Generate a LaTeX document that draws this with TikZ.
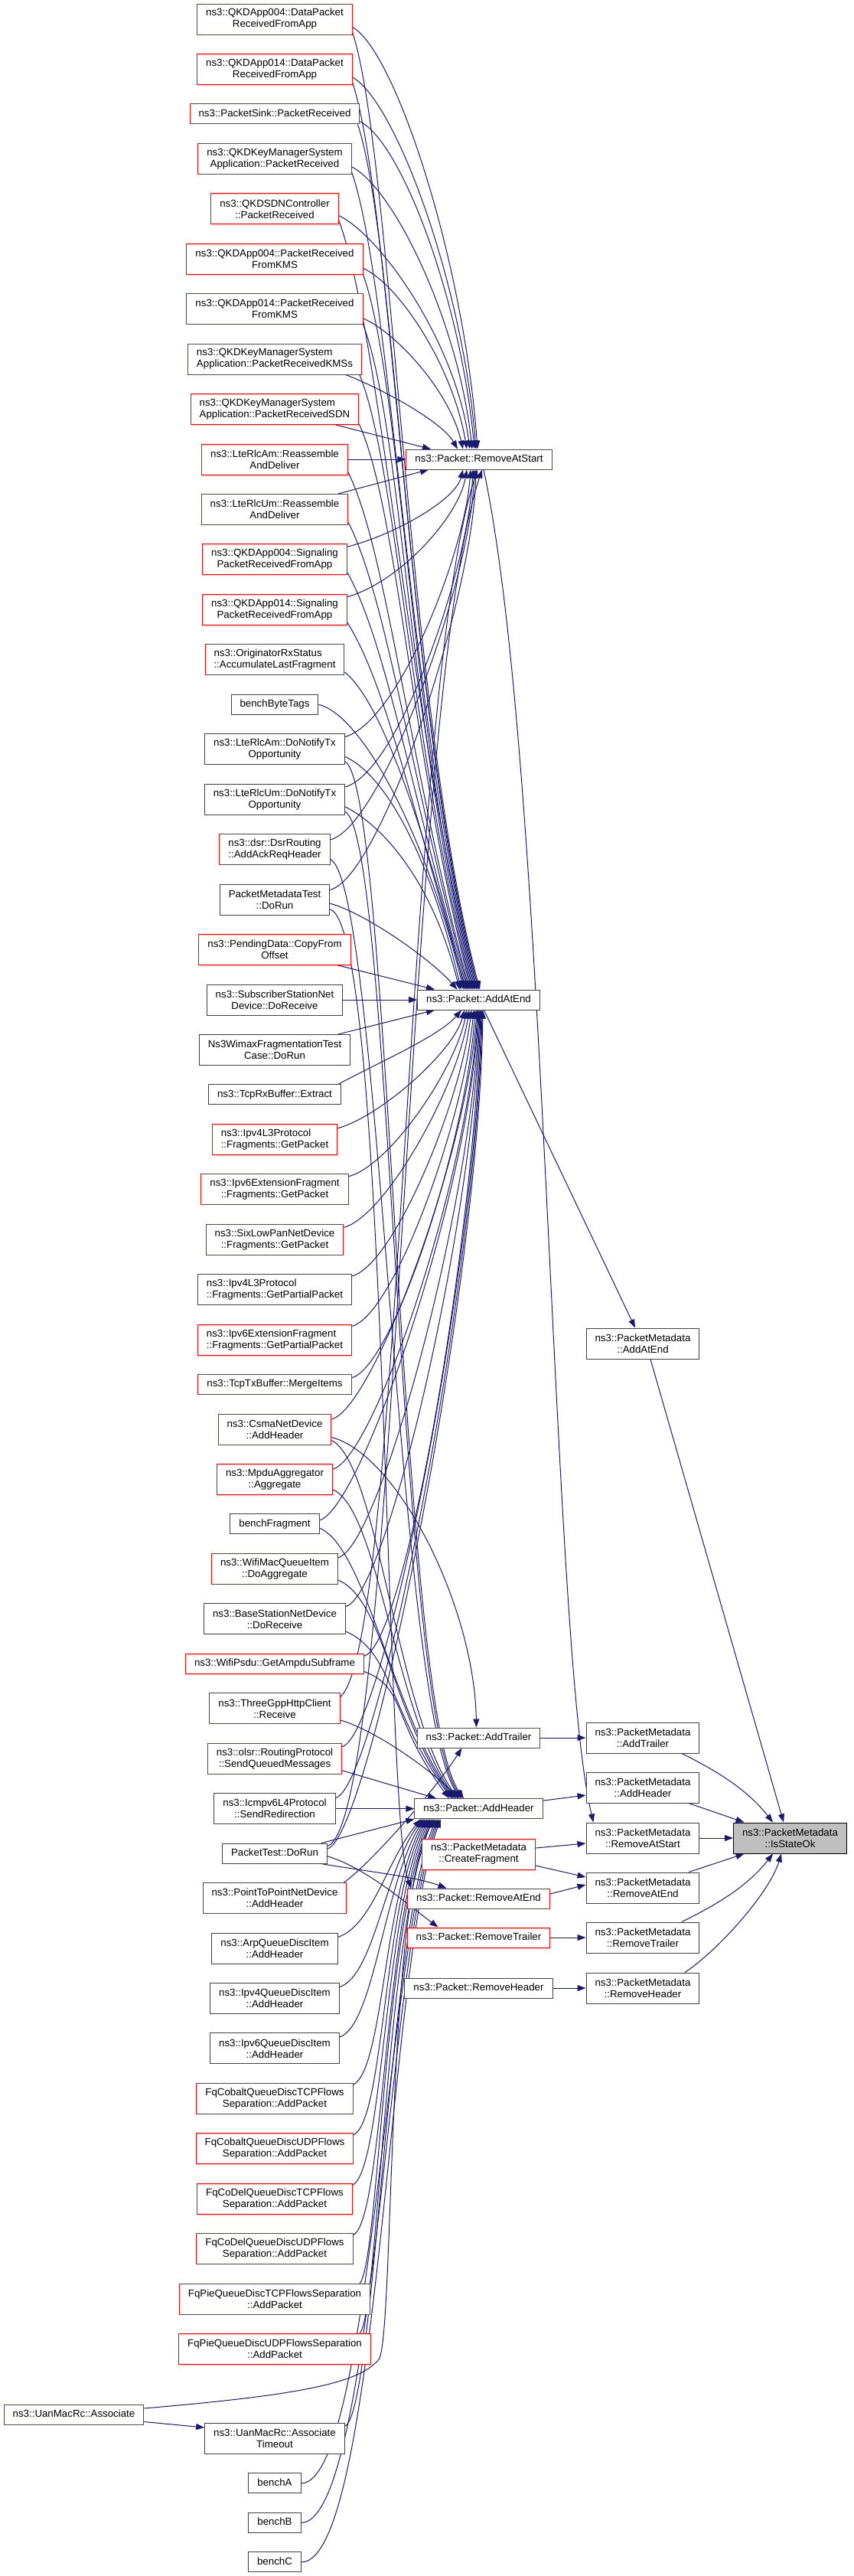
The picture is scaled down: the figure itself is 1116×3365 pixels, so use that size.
\documentclass[tikz,border=0pt]{standalone}
\usepackage{fontspec}
\setmainfont{Liberation Sans}
\usetikzlibrary{arrows.meta}
\definecolor{edgec}{HTML}{191970}
\definecolor{rednode}{HTML}{FF0000}
\definecolor{greynode}{HTML}{404040}
\definecolor{fillgrey}{HTML}{BFBFBF}
\newcommand\fsz{\fontsize{13.3pt}{15pt}\selectfont}
\pgfdeclarelayer{back}\pgfdeclarelayer{edges}\pgfsetlayers{back,edges,main}
\begin{document}
\begin{tikzpicture}[x=1pt,y=-1pt,
  base/.style={draw, fill=white, line width=1pt, inner xsep=11.5pt, inner ysep=2pt, font=\fsz},
  sgl/.style={base, minimum height=26pt, text height=9.6pt, text depth=2.9pt},
  dbl/.style={base, minimum height=40pt, align=center},
  redb/.style={draw=rednode},
  blkb/.style={draw=greynode},
  edg/.style={draw=edgec, line width=1pt, -{Triangle[length=11pt,width=8pt]}}
]
\begin{pgfonlayer}{back}
\fill[white] (0,0) rectangle (1116,3365);
\end{pgfonlayer}
\useasboundingbox (0,0) rectangle (1116,3365);

% ---------- left column
\node[dbl,redb] (n1) at (359,25) {ns3::QKDApp004::DataPacket\\ReceivedFromApp};
\node[dbl,redb] (n2) at (359,90.45) {ns3::QKDApp014::DataPacket\\ReceivedFromApp};
\node[sgl,redb] (n3) at (359,148.9) {ns3::PacketSink::PacketReceived};
\node[dbl,redb] (n4) at (359,207.35) {ns3::QKDKeyManagerSystem\\Application::PacketReceived};
\node[dbl,redb] (n5) at (359,272.8) {ns3::QKDSDNController\\::PacketReceived};
\node[dbl,redb] (n6) at (359,338.25) {ns3::QKDApp004::PacketReceived\\FromKMS};
\node[dbl,redb] (n7) at (359,403.7) {ns3::QKDApp014::PacketReceived\\FromKMS};
\node[dbl,redb,align=left] (n8) at (359,469.15) {ns3::QKDKeyManagerSystem\\Application::PacketReceivedKMSs};
\node[dbl,redb,align=left] (n9) at (359,534.6) {ns3::QKDKeyManagerSystem\\Application::PacketReceivedSDN};
\node[dbl,redb] (n10) at (359,600.05) {ns3::LteRlcAm::Reassemble\\AndDeliver};
\node[dbl,redb] (n11) at (359,665.5) {ns3::LteRlcUm::Reassemble\\AndDeliver};
\node[dbl,redb] (n12) at (359,730.95) {ns3::QKDApp004::Signaling\\PacketReceivedFromApp};
\node[dbl,redb] (n13) at (359,796.4) {ns3::QKDApp014::Signaling\\PacketReceivedFromApp};
\node[dbl,redb,align=left] (n14) at (359,861.85) {ns3::OriginatorRxStatus\\::AccumulateLastFragment};
\node[sgl,blkb] (n15) at (359,920.3) {benchByteTags};
\node[dbl,blkb] (n16) at (359,978.75) {ns3::LteRlcAm::DoNotifyTx\\Opportunity};
\node[dbl,blkb] (n17) at (359,1044.2) {ns3::LteRlcUm::DoNotifyTx\\Opportunity};
\node[dbl,redb] (n18) at (359,1109.65) {ns3::dsr::DsrRouting\\::AddAckReqHeader};
\node[dbl,blkb] (n19) at (359,1175.1) {PacketMetadataTest\\::DoRun};
\node[dbl,redb] (n20) at (359,1240.55) {ns3::PendingData::CopyFrom\\Offset};
\node[dbl,blkb] (n21) at (359,1306) {ns3::SubscriberStationNet\\Device::DoReceive};
\node[dbl,blkb] (n22) at (359,1371.45) {Ns3WimaxFragmentationTest\\Case::DoRun};
\node[sgl,blkb] (n23) at (359,1429.9) {ns3::TcpRxBuffer::Extract};
\node[dbl,redb,align=left] (n24) at (359,1488.35) {ns3::Ipv4L3Protocol\\::Fragments::GetPacket};
\node[dbl,redb] (n25) at (359,1553.8) {ns3::Ipv6ExtensionFragment\\::Fragments::GetPacket};
\node[dbl,redb] (n26) at (359,1619.25) {ns3::SixLowPanNetDevice\\::Fragments::GetPacket};
\node[dbl,blkb,align=left] (n27) at (359,1684.7) {ns3::Ipv4L3Protocol\\::Fragments::GetPartialPacket};
\node[dbl,redb,align=left] (n28) at (359,1750.15) {ns3::Ipv6ExtensionFragment\\::Fragments::GetPartialPacket};
\node[sgl,redb] (n29) at (359,1808.6) {ns3::TcpTxBuffer::MergeItems};
\node[dbl,redb] (n30) at (359,1867.05) {ns3::CsmaNetDevice\\::AddHeader};
\node[dbl,redb] (n31) at (359,1932.5) {ns3::MpduAggregator\\::Aggregate};
\node[sgl,blkb] (n32) at (359,1990.95) {benchFragment};
\node[dbl,redb] (n33) at (359,2049.4) {ns3::WifiMacQueueItem\\::DoAggregate};
\node[dbl,blkb] (n34) at (359,2114.85) {ns3::BaseStationNetDevice\\::DoReceive};
\node[sgl,redb] (n35) at (359,2173.3) {ns3::WifiPsdu::GetAmpduSubframe};
\node[dbl,redb] (n36) at (359,2231.75) {ns3::ThreeGppHttpClient\\::Receive};
\node[dbl,redb] (n37) at (359,2297.2) {ns3::olsr::RoutingProtocol\\::SendQueuedMessages};
\node[dbl,blkb] (n38) at (359,2362.65) {ns3::Icmpv6L4Protocol\\::SendRedirection};
\node[sgl,blkb] (n39) at (359,2421.1) {PacketTest::DoRun};
\node[dbl,redb] (n40) at (359,2479.55) {ns3::PointToPointNetDevice\\::AddHeader};
\node[dbl,blkb] (n41) at (359,2545) {ns3::ArpQueueDiscItem\\::AddHeader};
\node[dbl,blkb] (n42) at (359,2610.45) {ns3::Ipv4QueueDiscItem\\::AddHeader};
\node[dbl,blkb] (n43) at (359,2675.9) {ns3::Ipv6QueueDiscItem\\::AddHeader};
\node[dbl,redb] (n44) at (359,2741.35) {FqCobaltQueueDiscTCPFlows\\Separation::AddPacket};
\node[dbl,redb] (n45) at (359,2806.8) {FqCobaltQueueDiscUDPFlows\\Separation::AddPacket};
\node[dbl,redb] (n46) at (359,2872.25) {FqCoDelQueueDiscTCPFlows\\Separation::AddPacket};
\node[dbl,redb] (n47) at (359,2937.7) {FqCoDelQueueDiscUDPFlows\\Separation::AddPacket};
\node[dbl,redb] (n48) at (359,3003.15) {FqPieQueueDiscTCPFlowsSeparation\\::AddPacket};
\node[dbl,redb] (n49) at (359,3068.6) {FqPieQueueDiscUDPFlowsSeparation\\::AddPacket};
\node[sgl,redb] (nA) at (96.5,3154) {ns3::UanMacRc::Associate};
\node[dbl,blkb] (n50) at (359,3185.5) {ns3::UanMacRc::Associate\\Timeout};
\node[sgl,blkb] (n51) at (359,3243.95) {benchA};
\node[sgl,blkb] (n52) at (359,3295.4) {benchB};
\node[sgl,blkb] (n53) at (359,3346.85) {benchC};

% ---------- middle column
\node[sgl,redb] (RAS) at (626,600.05) {ns3::Packet::RemoveAtStart};
\node[sgl,blkb] (AAE) at (625.5,1306) {ns3::Packet::AddAtEnd};
\node[sgl,redb] (AT) at (625.5,2270) {ns3::Packet::AddTrailer};
\node[sgl,redb] (AH) at (625.5,2362.65) {ns3::Packet::AddHeader};
\node[dbl,redb] (CF) at (625.5,2422) {ns3::PacketMetadata\\::CreateFragment};
\node[sgl,redb] (RAE) at (625.5,2480) {ns3::Packet::RemoveAtEnd};
\node[sgl,redb] (RT) at (625.5,2531) {ns3::Packet::RemoveTrailer};
\node[sgl,blkb] (RH) at (625.5,2597) {ns3::Packet::RemoveHeader};

% ---------- PacketMetadata column
\node[dbl,blkb] (PAAE) at (840,1755) {ns3::PacketMetadata\\::AddAtEnd};
\node[dbl,blkb] (PAT) at (840,2270) {ns3::PacketMetadata\\::AddTrailer};
\node[dbl,blkb] (PAH) at (840,2335) {ns3::PacketMetadata\\::AddHeader};
\node[dbl,blkb] (PRAS) at (840,2401) {ns3::PacketMetadata\\::RemoveAtStart};
\node[dbl,blkb] (PRAE) at (840,2466) {ns3::PacketMetadata\\::RemoveAtEnd};
\node[dbl,blkb] (PRT) at (840,2531) {ns3::PacketMetadata\\::RemoveTrailer};
\node[dbl,blkb] (PRH) at (840,2597) {ns3::PacketMetadata\\::RemoveHeader};
\node[dbl,draw=black,fill=fillgrey] (IsOk) at (1032.5,2401) {ns3::PacketMetadata\\::IsStateOk};

\begin{pgfonlayer}{edges}
% ---- upper nodes -> RemoveAtStart (from above)
\draw[edg] (n1.-6) .. controls +(55,30) and +(-18,-248) .. ([xshift=-2pt]RAS.north);
\draw[edg] (n2.-6) .. controls +(55,30) and +(-18,-219) .. ([xshift=-4pt]RAS.north);
\draw[edg] (n3.-5) .. controls +(55,28) and +(-18,-193) .. ([xshift=-6pt]RAS.north);
\draw[edg] (n4.-6) .. controls +(55,28) and +(-18,-166) .. ([xshift=-9pt]RAS.north);
\draw[edg] (n5.-6) .. controls +(55,26) and +(-18,-138) .. ([xshift=-12pt]RAS.north);
\draw[edg] (n6.-6) .. controls +(48,22) and +(-18,-107) .. ([xshift=-16pt]RAS.north);
\draw[edg] (n7.-6) .. controls +(42,18) and +(-18,-77) .. ([xshift=-21pt]RAS.north);
\draw[edg] ([xshift=93pt]n8.south) .. controls +(40,15) and +(-22,-38) .. ([xshift=-28pt]RAS.north);
\draw[edg] ([xshift=80pt]n9.south) -- ([xshift=-63pt]RAS.north);
\draw[edg] (n10.east) -- (RAS.west);
% ---- upper nodes -> AddAtEnd (from above)
\draw[edg] (n1.-10) .. controls +(52,160) and +(-95,-360) .. ([xshift=1.5pt]AAE.north);
\draw[edg] (n2.-10) .. controls +(52,160) and +(-93,-360) .. (AAE.north);
\draw[edg] ([xshift=-3pt]n3.south east) .. controls +(50,150) and +(-91,-360) .. ([xshift=-1.5pt]AAE.north);
\draw[edg] (n4.-10) .. controls +(52,150) and +(-89,-360) .. ([xshift=-3pt]AAE.north);
\draw[edg] (n5.-10) .. controls +(55,150) and +(-87,-360) .. ([xshift=-4.5pt]AAE.north);
\draw[edg] (n6.-10) .. controls +(50,140) and +(-85,-350) .. ([xshift=-6pt]AAE.north);
\draw[edg] (n7.-10) .. controls +(50,130) and +(-83,-340) .. ([xshift=-7.5pt]AAE.north);
\draw[edg] ([xshift=-3pt]n8.south east) .. controls +(48,120) and +(-81,-330) .. ([xshift=-9pt]AAE.north);
\draw[edg] (n9.-10) .. controls +(50,110) and +(-79,-320) .. ([xshift=-10.5pt]AAE.north);
\draw[edg] (n10.-10) .. controls +(50,100) and +(-80,-300) .. ([xshift=-12pt]AAE.north);
\draw[edg] (n11.-10) .. controls +(50,100) and +(-78,-290) .. ([xshift=-13.5pt]AAE.north);
\draw[edg] (n12.-10) .. controls +(50,90) and +(-76,-270) .. ([xshift=-15pt]AAE.north);
\draw[edg] (n13.-10) .. controls +(50,80) and +(-74,-250) .. ([xshift=-16.5pt]AAE.north);
\draw[edg] (n14.-10) .. controls +(50,40) and +(-50,-200) .. ([xshift=-18pt]AAE.north);
\draw[edg] (n15.east) .. controls +(60,15) and +(-45,-190) .. ([xshift=-20pt]AAE.north);
% ---- upper nodes -> RemoveAtStart (from below)
\draw[edg] ([xshift=83pt]n11.north) -- ([xshift=-66pt]RAS.south);
\draw[edg] (n12.10) .. controls +(60,-15) and +(-10,40) .. ([xshift=-21pt]RAS.south);
\draw[edg] (n13.10) .. controls +(70,-20) and +(-10,60) .. ([xshift=-16pt]RAS.south);
\draw[edg] (n16.10) .. controls +(70,-20) and +(-8,110) .. ([xshift=-11pt]RAS.south);
\draw[edg] (n17.10) .. controls +(70,-20) and +(-6,130) .. ([xshift=-8pt]RAS.south);
\draw[edg] (n18.10) .. controls +(65,-15) and +(-5,150) .. ([xshift=-6pt]RAS.south);
\draw[edg] (n19.10) .. controls +(65,-15) and +(-4,170) .. ([xshift=-4pt]RAS.south);
\draw[edg] (n36.10) .. controls (525,2150) and (530,900) .. ([xshift=-2pt]RAS.south);
\draw[edg] (n39.8) .. controls (520,2380) and (528,920) .. ([xshift=4pt]RAS.south);
% ---- n16..n19 other edges
\draw[edg] (n16.-6) .. controls +(55,25) and +(-40,-170) .. ([xshift=-23pt]AAE.north);
\draw[edg] (n17.-6) .. controls +(50,25) and +(-35,-140) .. ([xshift=-25pt]AAE.north);
\draw[edg] (n19.-4) .. controls +(45,12) and +(-35,-40) .. ([xshift=-28pt]AAE.north);
\draw[edg] (n16.-10) .. controls +(60,30) and +(-85,-120) .. ([xshift=-19.5pt]AH.north);
\draw[edg] (n17.-10) .. controls +(60,30) and +(-84,-120) .. ([xshift=-21.5pt]AH.north);
\draw[edg] (n18.-10) .. controls +(65,30) and +(-83,-120) .. ([xshift=-23.5pt]AH.north);
\draw[edg] (n19.-10) .. controls +(75,20) and +(-35,-90) .. ([xshift=-88pt]RAE.north);
% ---- straight ones into AddAtEnd
\draw[edg] ([xshift=83pt]n20.south) -- ([xshift=-57.5pt]AAE.north);
\draw[edg] (n21.east) -- (AAE.west);
\draw[edg] ([xshift=83pt]n22.north) -- ([xshift=-57.5pt]AAE.south);
\draw[edg] ([xshift=83pt]n23.north) .. controls +(45,-25) and +(-30,35) .. ([xshift=-22.5pt]AAE.south);
% ---- lower nodes -> AddAtEnd (from below)
\draw[edg] (n24.10) .. controls +(55,-15) and +(-15,55) .. ([xshift=-18.5pt]AAE.south);
\draw[edg] (n25.10) .. controls +(55,-15) and +(-15,76) .. ([xshift=-15.5pt]AAE.south);
\draw[edg] (n26.10) .. controls +(55,-15) and +(-15,100) .. ([xshift=-12.5pt]AAE.south);
\draw[edg] (n27.10) .. controls +(55,-15) and +(-14,120) .. ([xshift=-9.5pt]AAE.south);
\draw[edg] (n28.10) .. controls +(55,-15) and +(-13,145) .. ([xshift=-6.5pt]AAE.south);
\draw[edg] (n29.5) .. controls +(55,-15) and +(-12,170) .. ([xshift=-4.5pt]AAE.south);
\draw[edg] (n30.10) .. controls +(55,-15) and +(-12,185) .. ([xshift=-2.5pt]AAE.south);
\draw[edg] (n31.10) .. controls +(55,-15) and +(-10,210) .. ([xshift=-1.5pt]AAE.south);
\draw[edg] (n32.5) .. controls +(55,-15) and +(-10,230) .. ([xshift=-0.5pt]AAE.south);
\draw[edg] (n33.10) .. controls +(55,-15) and +(-9,250) .. ([xshift=0.5pt]AAE.south);
\draw[edg] (n34.10) .. controls +(55,-15) and +(-8,270) .. ([xshift=1.5pt]AAE.south);
\draw[edg] (n35.5) .. controls +(55,-15) and +(-8,290) .. ([xshift=2.5pt]AAE.south);
\draw[edg] (n37.10) .. controls +(55,-15) and +(-6,330) .. ([xshift=3.5pt]AAE.south);
\draw[edg] (n38.10) .. controls +(55,-15) and +(-6,350) .. ([xshift=4.5pt]AAE.south);
\draw[edg] (n39.5) .. controls +(55,-15) and +(-5,370) .. ([xshift=5.5pt]AAE.south);
% ---- -> AddTrailer
\draw[edg] (n30.-8) .. controls +(87,23) and +(-2.5,-157) .. ([xshift=-3pt]AT.north);
\draw[edg] ([xshift=-4pt]n40.north east) .. controls +(35,-25) and +(-35,55) .. ([xshift=-22pt]AT.south);
% ---- -> AddHeader (from above)
\draw[edg] (n30.-11) .. controls +(60,30) and +(-80,-115) .. ([xshift=-27.5pt]AH.north);
\draw[edg] (n31.-10) .. controls +(60,25) and +(-80,-110) .. ([xshift=-29.5pt]AH.north);
\draw[edg] (n32.-5) .. controls +(60,25) and +(-80,-110) .. ([xshift=-31.5pt]AH.north);
\draw[edg] (n33.-10) .. controls +(60,25) and +(-80,-110) .. ([xshift=-33.5pt]AH.north);
\draw[edg] (n34.-10) .. controls +(60,25) and +(-80,-110) .. ([xshift=-35.5pt]AH.north);
\draw[edg] (n35.-5) .. controls +(55,20) and +(-75,-100) .. ([xshift=-38.5pt]AH.north);
\draw[edg] (n36.-10) .. controls +(50,15) and +(-35,-35) .. ([xshift=-25.5pt]AH.north);
\draw[edg] (n37.-10) -- ([xshift=-55.5pt]AH.north);
\draw[edg] (n38.east) -- (AH.west);
% ---- PacketTest
\draw[edg] ([xshift=-8pt]n39.north east) -- (AH.south west);
\draw[edg] ([xshift=-8pt]n39.south east) .. controls +(60,10) and +(-40,-15) .. ([xshift=-42pt]RAE.north);
\draw[edg] (n39.-3) .. controls +(50,15) and +(-40,-30) .. ([xshift=-53pt]RT.north);
% ---- -> AddHeader (from below)
\draw[edg] (n41.10) .. controls +(45,-15) and +(-45,55) .. ([xshift=-75.5pt]AH.south);
\draw[edg] (n42.10) .. controls +(45,-15) and +(-50,70) .. ([xshift=-73.5pt]AH.south);
\draw[edg] (n43.10) .. controls +(45,-15) and +(-52,85) .. ([xshift=-71.5pt]AH.south);
\draw[edg] (n44.10) .. controls +(40,-20) and +(-55,100) .. ([xshift=-69.5pt]AH.south);
\draw[edg] (n45.10) .. controls +(40,-20) and +(-57,110) .. ([xshift=-67.5pt]AH.south);
\draw[edg] (n46.10) .. controls +(40,-20) and +(-58,120) .. ([xshift=-65.5pt]AH.south);
\draw[edg] (n47.10) .. controls +(40,-20) and +(-60,130) .. ([xshift=-63.5pt]AH.south);
\draw[edg] ([xshift=111pt]n48.north) .. controls +(25,-25) and +(-62,140) .. ([xshift=-61.5pt]AH.south);
\draw[edg] ([xshift=111pt]n49.north) .. controls +(25,-25) and +(-63,150) .. ([xshift=-59.5pt]AH.south);
\draw[edg] (nA.5) .. controls (400,3128) and (470,3112) .. (495,3082) .. controls (515,3055) and (505,2480) .. ([xshift=-57.5pt]AH.south);
\draw[edg] ([yshift=4pt]nA.south east) -- ([yshift=-6pt]n50.north west);
\draw[edg] (n50.10) .. controls +(40,-20) and +(-65,160) .. ([xshift=-55.5pt]AH.south);
\draw[edg] (n51.east) .. controls +(90,0) and +(-66,170) .. ([xshift=-53.5pt]AH.south);
\draw[edg] (n52.east) .. controls +(95,0) and +(-67,175) .. ([xshift=-51.5pt]AH.south);
\draw[edg] (n53.east) .. controls +(100,0) and +(-68,180) .. ([xshift=-49.5pt]AH.south);
% ---- right part
\draw[edg] ([xshift=6pt]RAS.south) .. controls (715,1000) and (720,2150) .. ([xshift=10pt]PRAS.north west);
\draw[edg] ([xshift=7pt]AAE.south) -- ([xshift=-10pt]PAAE.north);
\draw[edg] ([xshift=10pt]PAAE.south) -- ([xshift=-8.5pt]IsOk.north);
\draw[edg] (AT.east) -- (PAT.west);
\draw[edg] ([yshift=-3pt]AH.north east) -- ([yshift=-10pt]PAH.west);
\draw[edg] ([yshift=8pt]CF.east) -- ([yshift=-7pt]PRAS.west);
\draw[edg] ([yshift=-15pt]CF.east) -- ([yshift=14pt]PRAE.west);
\draw[edg] ([yshift=6pt]RAE.east) -- ([yshift=4pt]PRAE.west);
\draw[edg] (RT.east) -- (PRT.west);
\draw[edg] (RH.east) -- (PRH.west);
\draw[edg] ([xshift=51pt]PAT.south) .. controls +(40,20) and +(-35,-45) .. ([xshift=-22.5pt]IsOk.north);
\draw[edg] ([xshift=60pt]PAH.south) -- ([xshift=-60pt]IsOk.north);
\draw[edg] (PRAS.east) -- (IsOk.west);
\draw[edg] ([xshift=60pt]PRAE.north) -- ([xshift=-60pt]IsOk.south);
\draw[edg] ([xshift=51pt]PRT.north) .. controls +(40,-20) and +(-35,45) .. ([xshift=-22.5pt]IsOk.south);
\draw[edg] ([xshift=55pt]PRH.north) .. controls +(45,-30) and +(-15,50) .. ([xshift=-11.5pt]IsOk.south);
\end{pgfonlayer}
\end{tikzpicture}
\end{document}
